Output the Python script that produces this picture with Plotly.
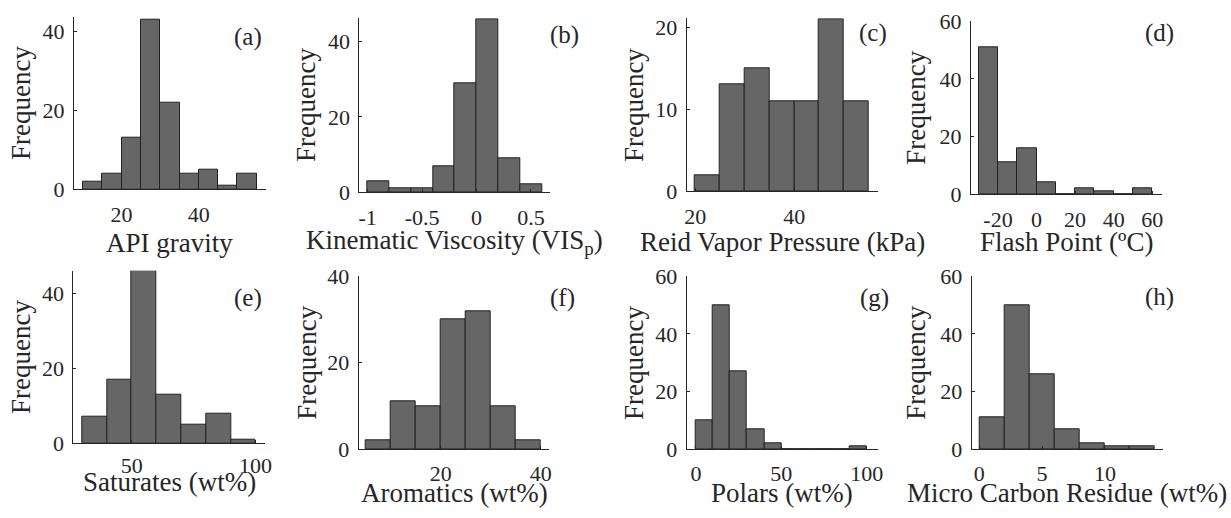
import plotly.graph_objects as go

# ---- data (bin edges and counts) ----
api_edges = [10, 15, 20, 25, 30, 35, 40, 45, 50, 55]
api_counts = [2, 4, 13, 43, 22, 4, 5, 1, 4]

vis_edges = [-1.0, -0.8, -0.6, -0.4, -0.2, 0.0, 0.2, 0.4, 0.6]
vis_counts = [3, 1, 1, 7, 29, 46, 9, 2]

rvp_edges = [20, 25, 30, 35, 40, 45, 50, 55]
rvp_counts = [2, 13, 15, 11, 11, 21, 11]

flash_edges = [-30, -20, -10, 0, 10, 20, 30, 40, 50, 60]
flash_counts = [51, 11, 16, 4, 0, 2, 1, 0, 2]

sat_edges = [30, 40, 50, 60, 70, 80, 90, 100]
sat_counts = [7, 17, 46, 13, 5, 8, 1]

aro_edges = [5, 10, 15, 20, 25, 30, 35, 40]
aro_counts = [2, 11, 10, 30, 32, 10, 2]

pol_edges = [0, 10, 20, 30, 40, 50, 60, 70, 80, 90, 100]
pol_counts = [10, 50, 27, 7, 2, 0, 0, 0, 0, 1]

mcr_edges = [0, 2, 4, 6, 8, 10, 12, 14]
mcr_counts = [11, 50, 26, 7, 2, 1, 1]

x_labels = ["API gravity", "Kinematic Viscosity (VIS<sub>p</sub>)",
            "Reid Vapor Pressure (kPa)", "Flash Point (ºC)",
            "Saturates (wt%)", "Aromatics (wt%)", "Polars (wt%)",
            "Micro Carbon Residue (wt%)"]
panel_tags = ["(a)", "(b)", "(c)", "(d)", "(e)", "(f)", "(g)", "(h)"]

x_tickvals = [[20, 40], [-1, -0.5, 0, 0.5], [20, 40], [-20, 0, 20, 40, 60],
              [50, 100], [20, 40], [0, 50, 100], [0, 5, 10]]
x_ticktext = [["20", "40"], ["-1", "-0.5", "0", "0.5"], ["20", "40"],
              ["-20", "0", "20", "40", "60"], ["50", "100"], ["20", "40"],
              ["0", "50", "100"], ["0", "5", "10"]]
y_tickvals = [[0, 20, 40], [0, 20, 40], [0, 10, 20], [0, 20, 40, 60],
              [0, 20, 40], [0, 20, 40], [0, 20, 40, 60], [0, 20, 40, 60]]

panels = [(api_edges, api_counts), (vis_edges, vis_counts), (rvp_edges, rvp_counts),
          (flash_edges, flash_counts), (sat_edges, sat_counts), (aro_edges, aro_counts),
          (pol_edges, pol_counts), (mcr_edges, mcr_counts)]

# ---- layout geometry (pixels) ----
W, H = 1231, 518
x_dom_px = [(74, 265.7), (359.3, 550), (686.7, 877.7), (971, 1161.7),
            (73.3, 265), (358.7, 549.3), (686.7, 877.7), (971.7, 1162.7)]
y_dom_px = [(16.7, 189.3), (18.3, 192.3), (18.3, 191.3), (21.3, 194.3),
            (270.7, 443.3), (276.3, 449), (276.3, 449), (276.3, 449)]
x_ranges = [(7.7, 57.3), (-1.077, 0.675), (18.3, 56.8), (-34, 64.9),
            (26.4, 103.8), (3.6, 41.7), (-5.4, 106.4), (-0.6, 14.6)]
y_ranges = [(0, 43.7), (0, 46.2), (0, 21.1), (0, 60),
            (0, 46), (0, 40), (0, 60), (0, 60)]
x_standoff = [5, 5, 5, 5, 2, 5, 5, 5]
xlabel_pos = [(169.5, 243.2), (454.7, 242), (782.2, 241.5), (1066, 241.5),
              (169, 482.2), (454, 492.5), (782.2, 492.5), (1067, 492.5)]
ylabel_pos = [(21, 103), (306.7, 105.3), (633.3, 104.8), (916, 107.8),
              (21, 357), (307, 362.7), (633.3, 362.7), (916, 362.7)]
tag_pos = [(248, 36.7), (564, 35), (873, 33.3), (1159, 33.3),
           (248.3, 298.3), (562.3, 298.3), (874, 298.3), (1159, 296.7)]

FONT = "Liberation Serif"
TXT = "#262626"

fig = go.Figure()
layout = dict(
    template="none",
    width=W, height=H, autosize=False, margin=dict(l=0, r=0, t=0, b=0, pad=0),
    paper_bgcolor="white", plot_bgcolor="white", showlegend=False,
    font=dict(family=FONT, color=TXT, size=22),
    bargap=0,
)
annotations = []
for i, (edges, counts) in enumerate(panels):
    n = i + 1
    centers = [(edges[k] + edges[k + 1]) / 2 for k in range(len(counts))]
    widths = [edges[k + 1] - edges[k] for k in range(len(counts))]
    fig.add_trace(go.Bar(
        x=centers, y=counts, width=widths,
        marker=dict(color="#666666", line=dict(color="#222222", width=1)),
        xaxis=f"x{n}", yaxis=f"y{n}", hoverinfo="x+y",
    ))
    xd = [x_dom_px[i][0] / W, x_dom_px[i][1] / W]
    yd = [1 - y_dom_px[i][1] / H, 1 - y_dom_px[i][0] / H]
    common = dict(showline=True, linecolor=TXT, linewidth=1, showgrid=False,
                  zeroline=False, ticks="inside", ticklen=3, tickcolor=TXT,
                  automargin=False, mirror=False,
                  tickfont=dict(family=FONT, size=22, color=TXT), fixedrange=True)
    layout[f"xaxis{n}"] = dict(domain=xd, range=list(x_ranges[i]), anchor=f"y{n}",
                               tickmode="array", tickvals=x_tickvals[i],
                               ticktext=x_ticktext[i], ticklabelstandoff=x_standoff[i],
                               **common)
    layout[f"yaxis{n}"] = dict(domain=yd, range=list(y_ranges[i]), anchor=f"x{n}",
                               tickmode="array", tickvals=y_tickvals[i],
                               ticklabelstandoff=4, **common)
    annotations.append(dict(text=x_labels[i], x=xlabel_pos[i][0] / W, y=1 - xlabel_pos[i][1] / H,
                            xref="paper", yref="paper", showarrow=False,
                            xanchor="center", yanchor="middle",
                            font=dict(family=FONT, size=27, color=TXT)))
    annotations.append(dict(text="Frequency", x=ylabel_pos[i][0] / W, y=1 - ylabel_pos[i][1] / H,
                            xref="paper", yref="paper", showarrow=False, textangle=-90,
                            xanchor="center", yanchor="middle",
                            font=dict(family=FONT, size=27, color=TXT)))
    annotations.append(dict(text=panel_tags[i], x=tag_pos[i][0] / W, y=1 - tag_pos[i][1] / H,
                            xref="paper", yref="paper", showarrow=False,
                            xanchor="center", yanchor="middle",
                            font=dict(family=FONT, size=25, color=TXT)))
layout["annotations"] = annotations
fig.update_layout(**layout)
fig.write_html("out.html")
